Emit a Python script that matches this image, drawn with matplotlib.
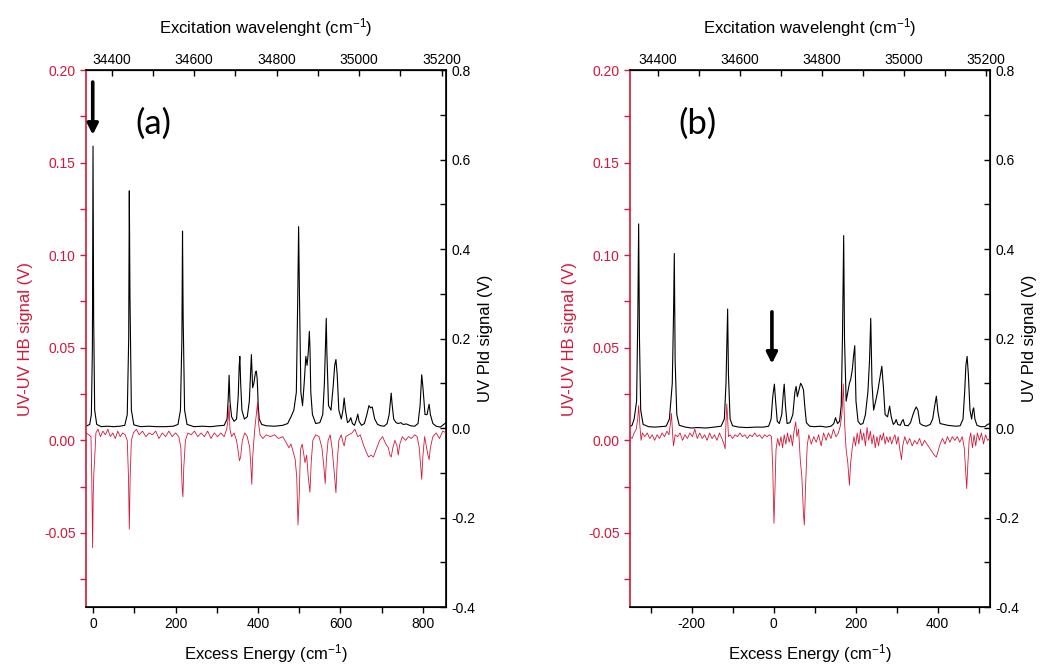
import numpy as np
import matplotlib
matplotlib.use("Agg")
import matplotlib.pyplot as plt
from matplotlib.ticker import MultipleLocator, FixedLocator

plt.rcParams["font.family"] = ["Liberation Sans", "DejaVu Sans"]
plt.rcParams["axes.unicode_minus"] = False
plt.rcParams["mathtext.fontset"] = "custom"
plt.rcParams["mathtext.rm"] = "Liberation Sans"
plt.rcParams["mathtext.it"] = "Liberation Sans:italic"

RED = "#d2183a"

# ---- panel (a): excess energy (cm-1) vs signal -------------------------
# UV PId signal (V), right axis, black
pid_a = np.array([
    (-17, 0.004), (-8, 0.008), (-4, 0.03), (-1.5, 0.18), (0, 0.63), (1.5, 0.25), (4, 0.04), (9, 0.008),
    (20, 0.003), (35, 0.004), (50, 0.003), (65, 0.004), (77, 0.006), (83, 0.03), (86.5, 0.2), (88, 0.53),
    (89.5, 0.3), (93, 0.04), (99, 0.007), (115, 0.003), (135, 0.004), (155, 0.003), (175, 0.003),
    (195, 0.004), (206, 0.008), (212, 0.04), (215.5, 0.2), (217, 0.44), (218.5, 0.25), (222, 0.04),
    (228, 0.008), (245, 0.003), (265, 0.004), (285, 0.003), (305, 0.005), (318, 0.006), (325, 0.02),
    (328, 0.07), (330, 0.118), (332, 0.06), (336, 0.025), (342, 0.015), (348, 0.02), (352, 0.07),
    (354.5, 0.14), (356, 0.16), (358, 0.1), (361, 0.04), (367, 0.02), (374, 0.025), (379, 0.06),
    (382, 0.12), (384, 0.164), (385.5, 0.13), (387, 0.09), (390, 0.1), (394, 0.125), (396, 0.127),
    (398, 0.11), (399, 0.09), (400.5, 0.05), (403, 0.02), (409, 0.008), (420, 0.005), (440, 0.004),
    (460, 0.006), (472, 0.01), (480, 0.025), (487, 0.04), (493, 0.08), (496.5, 0.3), (498.5, 0.45),
    (500.5, 0.3), (504, 0.08), (508, 0.05), (512, 0.1), (516, 0.16), (519, 0.14), (522, 0.17),
    (524.5, 0.216), (526, 0.18), (528, 0.08), (532, 0.03), (540, 0.01), (550, 0.012), (557, 0.03),
    (561, 0.1), (564, 0.2), (565.5, 0.245), (567, 0.17), (571, 0.05), (577, 0.04), (582, 0.09),
    (586, 0.14), (589, 0.153), (592, 0.12), (596, 0.04), (602, 0.02), (606, 0.04), (609, 0.067),
    (612, 0.04), (617, 0.012), (621, 0.015), (625, 0.023), (629, 0.01), (634, 0.006), (639, 0.02),
    (642, 0.031), (645, 0.015), (651, 0.006), (658, 0.01), (664, 0.03), (669, 0.05), (673, 0.045),
    (677, 0.047), (683, 0.02), (690, 0.008), (698, 0.005), (706, 0.004), (713, 0.01), (718, 0.03),
    (721, 0.06), (723, 0.078), (725, 0.055), (729, 0.02), (735, 0.012), (740, 0.01), (746, 0.012),
    (752, 0.008), (760, 0.009), (770, 0.005), (780, 0.004), (788, 0.01), (793, 0.05), (797, 0.119),
    (800, 0.09), (805, 0.03), (810, 0.03), (813, 0.045), (815, 0.053), (818, 0.03), (824, 0.01),
    (832, 0.004), (842, 0.002), (856, 0.012),
])

# UV-UV HB signal (V), left axis, red
hb_a = np.array([
    (-17, 0.004), (-10, 0.003), (-5, 0.002), (-3, -0.02), (-1, -0.058), (0.5, -0.03), (2, -0.018),
    (4, -0.01), (7, 0.004), (12, 0.006), (18, 0.002), (24, 0.005), (30, 0.003), (36, 0.006), (42, 0.002),
    (48, 0.004), (54, 0.001), (60, 0.005), (66, 0.002), (72, 0.004), (78, 0.003), (83, 0.0), (86, -0.02),
    (88, -0.048), (90, -0.02), (93, 0.0), (98, 0.004), (105, 0.006), (112, 0.003), (120, 0.005),
    (128, 0.002), (136, 0.004), (144, 0.003), (152, 0.005), (160, 0.001), (168, 0.004), (176, 0.002),
    (184, 0.005), (192, 0.002), (200, 0.004), (208, 0.002), (213, -0.004), (216, -0.025), (218, -0.0305),
    (220, -0.015), (224, 0.0), (230, 0.004), (238, 0.003), (246, 0.005), (254, 0.002), (262, 0.004),
    (270, 0.002), (278, 0.005), (286, 0.001), (294, 0.004), (302, 0.002), (310, 0.004), (318, 0.002),
    (324, 0.006), (328, 0.012), (330, 0.019), (332, 0.006), (336, 0.002), (342, 0.004), (348, 0.0),
    (352, -0.006), (355, -0.011), (358, -0.009), (362, 0.0), (368, 0.004), (374, 0.002), (380, -0.004),
    (383, -0.015), (385, -0.0237), (387, -0.01), (390, 0.0), (393, 0.008), (396, 0.014), (399, 0.0206),
    (401, 0.01), (405, 0.003), (412, 0.001), (420, 0.003), (430, 0.002), (440, 0.003), (450, 0.001),
    (460, 0.002), (468, -0.001), (475, -0.004), (480, -0.002), (485, -0.006), (490, -0.01), (494, -0.02),
    (497, -0.0457), (500, -0.03), (503, -0.005), (507, -0.002), (510, -0.006), (514, -0.012),
    (518, -0.008), (522, -0.02), (526, -0.028), (529, -0.012), (533, 0.0), (540, 0.003), (548, 0.002),
    (555, -0.004), (560, -0.015), (563, -0.0233), (566, -0.01), (570, 0.0), (575, 0.003), (580, -0.005),
    (584, -0.015), (589, -0.0283), (592, -0.012), (596, 0.0), (602, 0.003), (606, -0.001), (609, -0.003),
    (613, 0.002), (620, 0.003), (628, 0.004), (635, 0.006), (642, 0.002), (648, 0.003), (655, -0.002),
    (662, -0.006), (668, -0.009), (674, -0.008), (680, -0.009), (688, -0.004), (695, 0.0), (702, 0.002),
    (710, -0.002), (716, -0.004), (720, -0.008), (723, -0.009), (727, -0.004), (732, 0.0), (737, -0.003),
    (740, -0.008), (744, -0.002), (750, 0.002), (758, 0.0), (765, 0.002), (772, 0.001), (780, 0.003),
    (786, 0.002), (791, -0.004), (795, -0.015), (797, -0.021), (800, -0.008), (804, 0.002),
    (808, -0.003), (812, -0.008), (815, -0.0104), (818, -0.004), (824, 0.002), (832, 0.004),
    (840, 0.001), (848, 0.005), (856, 0.004),
])

# ---- panel (b) ---------------------------------------------------------
pid_b = np.array([
    (-350, 0.003), (-345, 0.006), (-340, 0.02), (-334, 0.06), (-331, 0.25), (-329, 0.456), (-327, 0.2),
    (-324, 0.04), (-318, 0.008), (-305, 0.003), (-290, 0.002), (-275, 0.003), (-262, 0.004),
    (-254, 0.02), (-247, 0.1), (-244, 0.25), (-242, 0.39), (-240, 0.15), (-236, 0.03), (-230, 0.006),
    (-215, 0.002), (-200, 0.0), (-185, 0.001), (-165, 0.0), (-145, 0.002), (-128, 0.004), (-120, 0.02),
    (-116, 0.1), (-113, 0.22), (-112, 0.266), (-110, 0.12), (-106, 0.02), (-100, 0.005), (-85, 0.002),
    (-65, 0.001), (-45, 0.002), (-25, 0.002), (-12, 0.004), (-6, 0.02), (-2, 0.07), (2, 0.098),
    (5, 0.06), (9, 0.015), (14, 0.01), (20, 0.03), (24, 0.08), (26, 0.098), (29, 0.05), (33, 0.01),
    (40, 0.012), (47, 0.03), (52, 0.08), (55, 0.093), (58, 0.07), (62, 0.085), (66, 0.1), (69, 0.095),
    (73, 0.085), (76, 0.05), (80, 0.012), (88, 0.004), (100, 0.003), (115, 0.004), (128, 0.002),
    (140, 0.004), (147, 0.01), (151, 0.023), (156, 0.01), (161, 0.015), (165, 0.05), (168, 0.2),
    (171, 0.43), (173, 0.2), (177, 0.06), (181, 0.08), (185, 0.1), (188, 0.108), (192, 0.13),
    (195, 0.16), (198, 0.184), (201, 0.06), (206, 0.015), (212, 0.008), (218, 0.01), (224, 0.03),
    (230, 0.08), (234, 0.15), (237, 0.245), (240, 0.1), (244, 0.04), (249, 0.06), (254, 0.082),
    (259, 0.11), (264, 0.138), (268, 0.09), (272, 0.03), (278, 0.025), (283, 0.049), (287, 0.025),
    (292, 0.008), (296, 0.012), (299, 0.019), (303, 0.008), (309, 0.006), (313, 0.015), (316, 0.019),
    (320, 0.006), (328, 0.005), (334, 0.012), (340, 0.03), (344, 0.04), (348, 0.047), (352, 0.04),
    (357, 0.01), (364, 0.006), (372, 0.004), (382, 0.008), (388, 0.02), (393, 0.05), (397, 0.071),
    (401, 0.035), (406, 0.01), (415, 0.008), (425, 0.006), (435, 0.005), (445, 0.004), (455, 0.005),
    (462, 0.02), (466, 0.08), (469, 0.14), (472, 0.16), (475, 0.12), (479, 0.04), (483, 0.02),
    (486, 0.04), (488, 0.045), (491, 0.02), (496, 0.006), (505, 0.003), (515, 0.003), (522, 0.008),
    (528, 0.01),
])

hb_b = np.array([
    (-350, 0.002), (-345, 0.001), (-340, 0.004), (-335, 0.006), (-331, 0.012), (-329, 0.0188),
    (-326, 0.008), (-323, 0.0), (-320, 0.004), (-314, 0.002), (-308, 0.004), (-302, 0.001),
    (-296, 0.003), (-290, 0.0), (-284, 0.003), (-278, 0.001), (-272, 0.004), (-266, 0.002),
    (-260, 0.005), (-255, 0.003), (-251, 0.01), (-249, 0.0145), (-246, 0.003), (-244, -0.003),
    (-240, 0.003), (-234, 0.002), (-228, 0.004), (-222, 0.0), (-216, 0.003), (-210, 0.001),
    (-204, 0.004), (-198, 0.002), (-192, 0.006), (-186, 0.001), (-180, 0.004), (-174, 0.001),
    (-168, 0.003), (-162, 0.0), (-156, 0.004), (-150, 0.001), (-144, 0.003), (-138, 0.0), (-132, 0.004),
    (-126, 0.001), (-121, -0.002), (-118, -0.0045), (-116, 0.01), (-114, 0.0197), (-112, 0.012),
    (-110, 0.002), (-106, 0.003), (-100, 0.001), (-94, 0.003), (-88, 0.002), (-82, 0.004), (-76, 0.002),
    (-70, 0.003), (-64, 0.001), (-58, 0.003), (-52, 0.002), (-46, 0.004), (-40, 0.002), (-34, 0.003),
    (-28, 0.001), (-22, 0.003), (-16, 0.002), (-10, 0.003), (-5, 0.002), (-2, -0.015), (1, -0.0448),
    (3, -0.03), (6, -0.005), (10, 0.001), (14, -0.003), (18, 0.002), (22, -0.004), (26, 0.003),
    (30, -0.002), (34, 0.004), (38, -0.001), (42, 0.003), (46, -0.003), (50, 0.005), (54, 0.01),
    (57, 0.002), (61, 0.006), (65, -0.01), (69, -0.02), (73, -0.04), (75, -0.0457), (78, -0.025),
    (82, -0.003), (86, 0.003), (92, -0.002), (98, 0.002), (104, -0.001), (110, 0.003), (116, -0.003),
    (122, 0.004), (128, 0.0), (134, 0.004), (140, 0.001), (146, 0.006), (152, 0.002), (158, 0.004),
    (163, 0.008), (167, 0.015), (170, 0.0305), (173, 0.01), (177, -0.005), (181, -0.012),
    (185, -0.0242), (188, -0.012), (192, -0.004), (196, 0.002), (200, -0.003), (204, 0.004),
    (208, -0.002), (212, 0.006), (216, 0.0), (220, 0.004), (224, -0.003), (228, 0.007), (232, 0.0),
    (236, 0.005), (240, -0.002), (244, 0.003), (248, -0.004), (252, 0.002), (256, -0.003), (260, 0.003),
    (264, 0.0), (268, 0.004), (272, -0.002), (276, 0.002), (280, -0.001), (284, 0.002), (288, -0.002),
    (292, 0.001), (296, 0.003), (300, -0.002), (304, 0.002), (308, -0.005), (312, -0.0104),
    (315, -0.003), (320, 0.002), (326, -0.002), (332, 0.001), (338, -0.003), (344, 0.0), (350, -0.002),
    (356, 0.001), (362, -0.003), (368, 0.0), (374, -0.002), (380, -0.004), (386, -0.006), (392, -0.008),
    (397, -0.009), (401, -0.006), (406, -0.002), (412, 0.001), (418, -0.002), (424, 0.002),
    (430, -0.001), (436, 0.002), (442, 0.0), (448, 0.002), (454, -0.001), (460, 0.002), (465, -0.004),
    (468, -0.015), (471, -0.026), (474, -0.012), (477, 0.0), (481, 0.004), (485, -0.004), (489, 0.003),
    (493, -0.003), (497, 0.004), (502, 0.0), (507, 0.004), (512, -0.002), (517, 0.003), (522, 0.0),
    (528, 0.001),
])

# excess-energy origin on the excitation (cm-1) scale
origin_a = 34355
origin_b = 34683

# top-axis ticks (cm-1)
wl_major = [34400, 34600, 34800, 35000, 35200]
wl_minor = [34500, 34700, 34900, 35100]


def draw_panel(rect, hb, pid, xlim, origin, tag, arrow):
    ax = fig.add_axes(rect)
    ax2 = ax.twinx()

    ax.plot(hb[:, 0], hb[:, 1], color=RED, lw=0.6, zorder=2)
    ax2.plot(pid[:, 0], pid[:, 1], color="black", lw=0.8, zorder=3)
    ax.set_zorder(ax2.get_zorder() + 1)
    ax.patch.set_visible(False)

    ax.set_xlim(*xlim)
    ax.set_ylim(-0.09, 0.20)
    ax2.set_ylim(-0.4, 0.8)

    ax.xaxis.set_major_locator(MultipleLocator(200))
    ax.xaxis.set_minor_locator(MultipleLocator(100))
    ax.yaxis.set_major_locator(MultipleLocator(0.05))
    ax.yaxis.set_minor_locator(MultipleLocator(0.025))
    ax.yaxis.set_major_formatter(lambda v, _: f"{v:.2f}")
    ax2.yaxis.set_major_locator(MultipleLocator(0.2))
    ax2.yaxis.set_minor_locator(MultipleLocator(0.1))
    ax2.yaxis.set_major_formatter(lambda v, _: f"{v:.1f}")

    ax.tick_params(axis="x", which="both", direction="out", length=4, width=1, labelsize=10, top=False)
    ax.tick_params(axis="y", which="both", direction="out", length=4, width=1, labelsize=10,
                   colors=RED)
    ax2.tick_params(axis="y", which="both", direction="in", length=4, width=1, labelsize=10)
    ax2.tick_params(axis="y", pad=4)

    for s in ("top", "bottom"):
        ax.spines[s].set_linewidth(1.2)
    ax.spines["left"].set_color(RED)
    ax.spines["left"].set_linewidth(1.2)
    ax2.spines["left"].set_visible(False)
    ax2.spines["right"].set_linewidth(1.2)

    top = ax.secondary_xaxis("top", functions=(lambda e: e + origin, lambda w: w - origin))
    top.xaxis.set_major_locator(FixedLocator(wl_major))
    top.xaxis.set_minor_locator(FixedLocator(wl_minor))
    top.tick_params(which="both", direction="in", length=4, width=1, labelsize=10, pad=2)
    top.set_xlabel("Excitation wavelenght (cm$^{-1}$)", fontsize=12, labelpad=14)

    ax.set_xlabel("Excess Energy (cm$^{-1}$)", fontsize=12, labelpad=8)
    ax.set_ylabel("UV-UV HB signal (V)", fontsize=12, color=RED)
    ax.yaxis.set_label_coords(-0.147, 0.5)
    ax2.set_ylabel("UV Pld signal (V)", fontsize=12)
    ax2.yaxis.set_label_coords(1.09, 0.5)

    ax.text(0.186, 0.90, tag, transform=ax.transAxes, fontsize=25, family="Lato",
            ha="center", va="center")
    ax.annotate("", xy=(arrow[0], arrow[2]), xytext=(arrow[0], arrow[1]),
                arrowprops=dict(arrowstyle="-|>", lw=2.6, color="black", mutation_scale=16,
                                shrinkA=0, shrinkB=0))
    return ax


fig = plt.figure(figsize=(10.4, 6.68), dpi=100)
draw_panel([0.0827, 0.0913, 0.3462, 0.8039], hb_a, pid_a, (-17, 856), origin_a, "(a)",
           (-0.7, 0.1935, 0.165))
draw_panel([0.6058, 0.0913, 0.3462, 0.8039], hb_b, pid_b, (-350, 528), origin_b, "(b)",
           (-4, 0.0694, 0.0414))

fig.savefig("out.png", dpi=100)
